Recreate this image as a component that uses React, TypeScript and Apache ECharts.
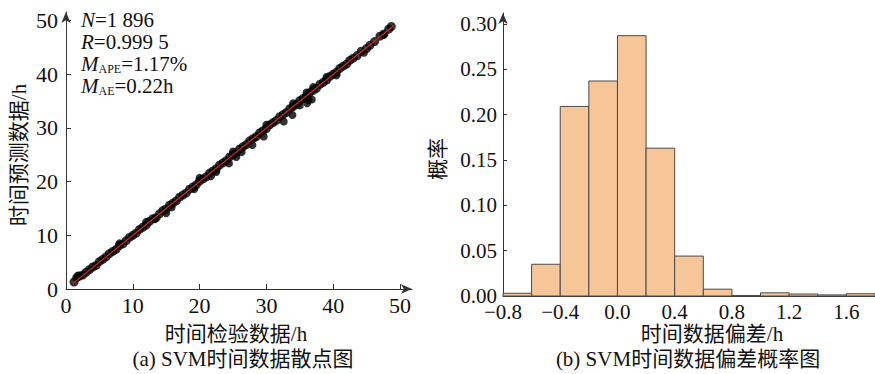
import React, { useEffect, useRef } from "react";
import * as echarts from "echarts";

// ---------- Data ----------
// (a) scatter: [inspection time (h), predicted time (h)]
const scatterMain: number[][] = [
  [1.2, 1.3], [1.6, 2.1], [2.0, 2.4], [2.5, 2.6], [3.0, 3.1], [3.5, 3.6], [4.0, 4.1], [4.5, 4.4],
  [5.0, 5.1], [5.5, 5.5], [6.0, 6.0], [6.5, 6.6], [7.0, 7.0], [7.5, 7.4], [8.0, 8.1], [8.5, 8.4],
  [9.0, 9.0], [9.5, 9.6], [10.0, 10.0], [10.5, 10.4], [11.0, 11.1], [11.5, 11.5], [12.0, 11.9],
  [12.5, 12.6], [13.0, 13.1], [13.5, 13.3], [14.0, 14.0], [14.5, 14.6], [15.0, 14.9], [15.5, 15.6],
  [16.0, 16.0], [16.5, 16.4], [17.0, 17.1], [17.5, 17.5], [18.0, 17.9], [18.5, 18.6], [19.0, 19.0],
  [19.5, 19.4], [20.0, 20.1], [20.5, 20.5], [21.0, 20.9], [21.5, 21.6], [22.0, 22.0], [22.5, 22.4],
  [23.0, 23.1], [23.5, 23.5], [24.0, 23.9], [24.5, 24.6], [25.0, 25.0], [25.5, 25.4], [26.0, 26.1],
  [26.5, 26.5], [27.0, 26.9], [27.5, 27.6], [28.0, 28.0], [28.5, 28.4], [29.0, 29.1], [29.5, 29.5],
  [30.0, 29.9], [30.5, 30.6], [31.0, 31.0], [31.5, 31.4], [32.0, 32.1], [32.5, 32.5], [33.0, 32.9],
  [33.5, 33.6], [34.0, 34.0], [34.5, 34.4], [35.0, 35.1], [35.5, 35.5], [36.0, 35.9], [36.5, 36.6],
  [37.0, 37.0], [37.5, 37.4], [38.0, 38.1], [38.5, 38.5], [39.0, 38.9], [39.5, 39.6], [40.0, 40.0],
  [40.5, 40.4], [41.0, 41.1], [41.5, 41.5], [42.0, 41.9], [42.5, 42.6], [43.0, 43.0], [43.6, 43.5],
  [44.2, 44.3], [45.0, 44.8], [45.5, 45.4], [46.2, 46.1], [47.0, 47.1], [47.6, 47.5], [48.3, 48.4],
  [48.7, 48.9],
];
const scatterOutliers: number[][] = [
  [13.3, 13.0], [15.0, 14.1], [15.8, 15.2], [19.2, 18.6], [21.7, 21.0], [22.5, 21.8], [24.4, 23.4],
  [25.5, 24.6], [26.3, 25.5], [27.9, 26.8], [29.6, 28.4], [32.6, 31.2], [33.9, 32.4], [35.0, 34.2],
  [36.1, 34.6], [36.3, 35.2], [36.8, 35.3], [40.5, 39.8], [44.6, 44.0], [47.5, 47.3], [37.0, 37.6],
  [36.0, 36.6], [1.8, 2.5], [20.0, 20.7], [25.0, 25.6], [30.0, 30.6], [34.0, 34.6], [39.0, 39.5],
  [12.0, 12.5], [8.0, 8.5],
];
const fitLine: number[][] = [[1, 1], [49, 49]];
const scatterTicks = [0, 10, 20, 30, 40, 50];

// (b) histogram of deviation (h)
const binEdges = [-0.8, -0.6, -0.4, -0.2, 0.0, 0.2, 0.4, 0.6, 0.8, 1.0, 1.2, 1.4, 1.6, 1.8];
const binProbs = [0.003, 0.035, 0.209, 0.237, 0.287, 0.163, 0.044, 0.0075, 0.0006, 0.0035, 0.0022, 0.0012, 0.0025];
const histXTicks = [-0.8, -0.4, 0.0, 0.4, 0.8, 1.2, 1.6];
const histYTicks = [0, 0.05, 0.1, 0.15, 0.2, 0.25, 0.3];

const FONT = "'Liberation Serif', 'Times New Roman', 'Noto Sans CJK SC', serif";
const AXIS_COLOR = "#333";

export default function App() {
  const ref = useRef<HTMLDivElement>(null);
  useEffect(() => {
    if (!ref.current) return;
    const chart = echarts.init(ref.current, undefined, { renderer: "svg" });
    const histData = binProbs.map((p, i) => [binEdges[i], binEdges[i + 1], p]);
    const axisLine = (arrow: boolean) => ({
      onZero: false,
      lineStyle: { color: AXIS_COLOR, width: 1 },
      symbol: arrow ? ["none", "arrow"] : ["none", "none"],
      symbolSize: [7, 11],
    });
    const labelStyle = { color: "#111", fontFamily: FONT, fontSize: 21 };
    const option: any = {
      animation: false,
      backgroundColor: "#fff",
      grid: [
        { left: 66, top: 12, width: 346, height: 277 },
        { left: 503, top: 13, width: 372, height: 283 },
      ],
      xAxis: [
        {
          gridIndex: 0, type: "value", min: 0, max: 51.8,
          axisLine: axisLine(true),
          axisTick: { show: true, inside: true, length: 5, customValues: scatterTicks, lineStyle: { color: AXIS_COLOR } },
          axisLabel: { ...labelStyle, fontSize: 22, margin: 5, customValues: scatterTicks },
          splitLine: { show: false },
        },
        {
          gridIndex: 1, type: "value", min: -0.8, max: 1.8,
          axisLine: axisLine(false),
          axisTick: { show: false },
          axisLabel: {
            ...labelStyle, margin: 5, customValues: histXTicks,
            formatter: (v: number) => v.toFixed(1).replace("-", "\u2212"),
          },
          splitLine: { show: false },
        },
      ],
      yAxis: [
        {
          gridIndex: 0, type: "value", min: 0, max: 51.6,
          axisLine: axisLine(true),
          axisTick: { show: true, inside: true, length: 5, customValues: scatterTicks, lineStyle: { color: AXIS_COLOR } },
          axisLabel: { ...labelStyle, fontSize: 22, margin: 8, customValues: scatterTicks },
          splitLine: { show: false },
        },
        {
          gridIndex: 1, type: "value", min: 0, max: 0.312,
          axisLine: axisLine(true),
          axisTick: { show: true, inside: true, length: 4, customValues: histYTicks, lineStyle: { color: AXIS_COLOR } },
          axisLabel: {
            ...labelStyle, margin: 6, customValues: histYTicks,
            formatter: (v: number) => v.toFixed(2),
          },
          splitLine: { show: false },
        },
      ],
      series: [
        {
          type: "scatter", xAxisIndex: 0, yAxisIndex: 0, data: scatterMain,
          symbolSize: 9, itemStyle: { color: "#000" }, z: 2,
        },
        {
          type: "scatter", xAxisIndex: 0, yAxisIndex: 0, data: scatterOutliers,
          symbolSize: 8, itemStyle: { color: "#000" }, z: 2,
        },
        {
          type: "line", xAxisIndex: 0, yAxisIndex: 0, data: fitLine, showSymbol: false,
          lineStyle: { color: "#e0262b", width: 1.2 }, z: 3,
        },
        {
          type: "custom", xAxisIndex: 1, yAxisIndex: 1, data: histData,
          encode: { x: [0, 1], y: 2 },
          renderItem: (_params: any, api: any) => {
            const p0 = api.coord([api.value(0), api.value(2)]);
            const p1 = api.coord([api.value(1), 0]);
            return {
              type: "rect",
              shape: { x: p0[0], y: p0[1], width: p1[0] - p0[0], height: p1[1] - p0[1] },
              style: { fill: "#F6C699", stroke: "#4a4a4a", lineWidth: 1 },
            };
          },
        },
      ],
      graphic: [
        {
          type: "text", left: 81, top: 9,
          style: {
            text: "{it|N}=1 896\n{it|R}=0.999 5\n{it|M}{sub|APE}=1.17%\n{it|M}{sub|AE}=0.22h",
            fontFamily: FONT, fontSize: 21, lineHeight: 22, fill: "#111",
            rich: {
              it: { fontStyle: "italic", fontFamily: FONT, fontSize: 21, lineHeight: 22 },
              sub: { fontFamily: FONT, fontSize: 12, verticalAlign: "bottom", lineHeight: 22 },
            },
          },
        },
        {
          type: "text", x: 19, y: 155, rotation: Math.PI / 2,
          style: { text: "时间预测数据/h", fontFamily: FONT, fontSize: 21, fill: "#111", align: "center", verticalAlign: "middle" },
        },
        {
          type: "text", x: 236, y: 334,
          style: { text: "时间检验数据/h", fontFamily: FONT, fontSize: 21, fill: "#111", align: "center", verticalAlign: "middle" },
        },
        {
          type: "text", x: 243, y: 359,
          style: { text: "(a) SVM时间数据散点图", fontFamily: FONT, fontSize: 21, fill: "#111", align: "center", verticalAlign: "middle" },
        },
        {
          type: "text", x: 438, y: 159, rotation: Math.PI / 2,
          style: { text: "概率", fontFamily: FONT, fontSize: 21, fill: "#111", align: "center", verticalAlign: "middle" },
        },
        {
          type: "text", x: 712, y: 334,
          style: { text: "时间数据偏差/h", fontFamily: FONT, fontSize: 21, fill: "#111", align: "center", verticalAlign: "middle" },
        },
        {
          type: "text", x: 688, y: 359,
          style: { text: "(b) SVM时间数据偏差概率图", fontFamily: FONT, fontSize: 21, fill: "#111", align: "center", verticalAlign: "middle" },
        },
      ],
    };
    chart.setOption(option);
    return () => chart.dispose();
  }, []);
  return (
    <div
      ref={ref}
      style={{ position: "absolute", left: 0, top: 0, width: 875, height: 374, background: "#fff" }}
    />
  );
}
